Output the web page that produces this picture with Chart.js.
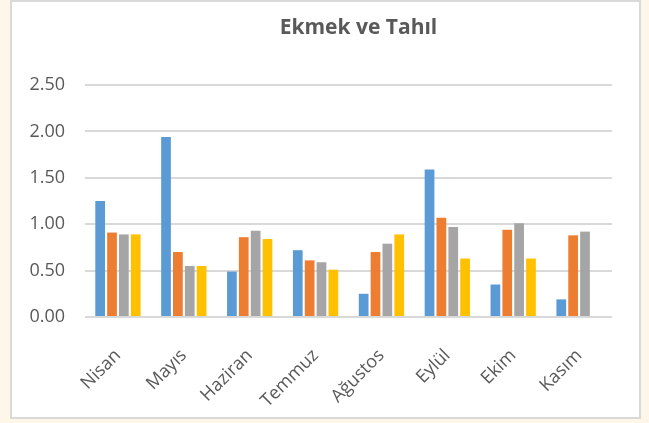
<!DOCTYPE html>
<html>
<head>
<meta charset="utf-8">
<script src="https://cdn.jsdelivr.net/npm/chart.js@4/dist/chart.umd.min.js"></script>
<style>
  html, body { margin: 0; padding: 0; background: #fef7e9; }
  #panel {
    position: absolute; left: 10px; top: 0; width: 631px; height: 419px;
    box-sizing: border-box; border: 2px solid #d9d9d9; background: #ffffff;
  }
  #kutu { position: relative; width: 627px; height: 415px; }
</style>
</head>
<body>
<div id="panel"><div id="kutu"><canvas id="grafik"></canvas></div></div>
<script>
// Ekmek ve Tahıl - aylık değerler
const baslik = 'Ekmek ve Tahıl';
const aylar = ['Nisan', 'Mayıs', 'Haziran', 'Temmuz', 'Ağustos', 'Eylül', 'Ekim', 'Kasım'];
const seri1 = [1.25, 1.94, 0.49, 0.72, 0.25, 1.59, 0.35, 0.19];
const seri2 = [0.91, 0.70, 0.86, 0.61, 0.70, 1.07, 0.94, 0.88];
const seri3 = [0.89, 0.55, 0.93, 0.59, 0.79, 0.97, 1.01, 0.92];
const seri4 = [0.89, 0.55, 0.84, 0.51, 0.89, 0.63, 0.63, null];
const renkler = ['#5b9bd5', '#ed7d31', '#a5a5a5', '#ffc000'];

const yazi = '#595959';
const cizgi = '#d9d9d9';

// baslik elle ciziliyor (Excel'deki gibi biraz saga kaymis)
const baslikEklentisi = {
    id: 'baslikEklentisi',
    afterDraw(chart) {
        const ctx = chart.ctx;
        const a = chart.chartArea;
        ctx.save();
        ctx.font = 'bold 21px "Open Sans"';
        ctx.fillStyle = yazi;
        ctx.textAlign = 'center';
        ctx.textBaseline = 'alphabetic';
        ctx.fillText(baslik, (a.left + a.right) / 2 + 10, 32);
        ctx.restore();
    }
};

const seriler = [seri1, seri2, seri3, seri4].map((s, i) => ({
    label: 'Seri ' + (i + 1),
    data: s,
    backgroundColor: renkler[i],
    categoryPercentage: 0.72,
    barPercentage: 0.82
}));

new Chart(document.getElementById('grafik'), {
    type: 'bar',
    data: { labels: aylar, datasets: seriler },
    options: {
        responsive: true,
        maintainAspectRatio: false,
        animation: false,
        layout: { padding: { left: 0, right: 27, top: 83, bottom: 0 } },
        plugins: {
            legend: { display: false },
            title: { display: false },
            tooltip: { enabled: false }
        },
        scales: {
            x: {
                grid: { display: false },
                border: { display: false },
                ticks: {
                    color: yazi,
                    font: { family: 'Open Sans', size: 18 },
                    minRotation: 45,
                    maxRotation: 45,
                    padding: 20
                },
                afterFit(olcek) { olcek.height = 100; }
            },
            y: {
                min: 0,
                max: 2.5,
                border: { display: false },
                grid: { color: cizgi, lineWidth: 2, drawTicks: false },
                ticks: {
                    stepSize: 0.5,
                    color: yazi,
                    font: { family: 'Open Sans', size: 18 },
                    padding: 20,
                    callback: v => Number(v).toFixed(2)
                },
                afterFit(olcek) { olcek.width = 73; }
            }
        }
    },
    plugins: [baslikEklentisi]
});
</script>
</body>
</html>
